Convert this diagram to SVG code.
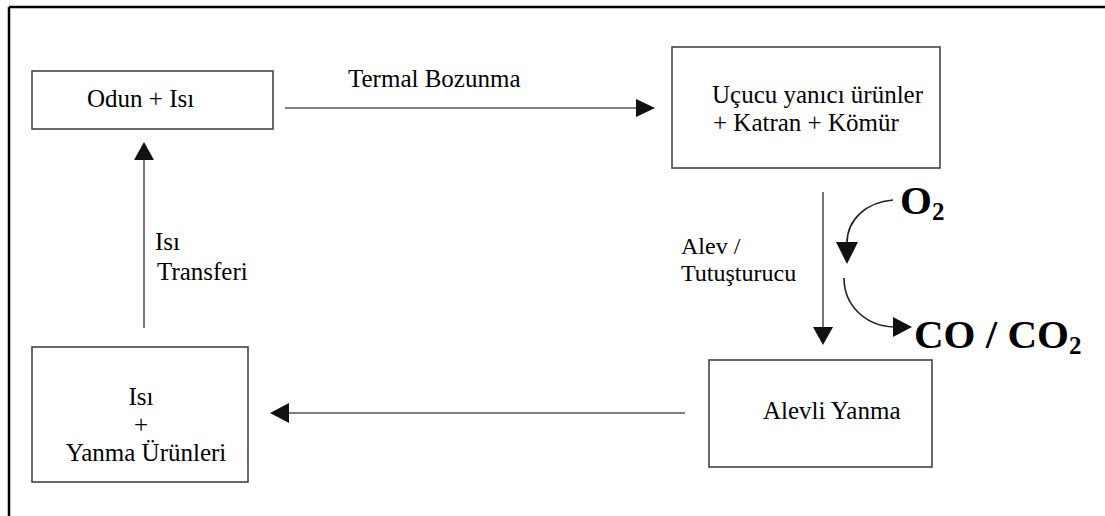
<svg xmlns="http://www.w3.org/2000/svg" width="1105" height="516" viewBox="0 0 1105 516">
<style>
.box{fill:#fff;stroke:#444;stroke-width:1.6}
.ln{fill:none;stroke:#555;stroke-width:1.6}
.cv{fill:none;stroke:#222;stroke-width:1.6}
.hd{fill:#111}
</style>
<rect width="1105" height="516" fill="#fff"/>
<g id="frame" stroke="#000" stroke-width="2.5">
<line x1="9" y1="7" x2="1105" y2="7"/>
<line x1="9" y1="7" x2="9" y2="516"/>
</g>
<g id="n-odun">
<rect class="box" x="32" y="71" width="241" height="58"/>
<text x="87" y="107" font-family="Liberation Serif, Tinos, Times New Roman, serif" font-size="25" style="font-family:'Liberation Serif','Tinos','Times New Roman',serif">Odun + Isı</text>
</g>
<g id="n-ucucu">
<rect class="box" x="672" y="47" width="268" height="121"/>
<text x="712" y="103" font-family="Liberation Serif, Tinos, Times New Roman, serif" font-size="25" style="font-family:'Liberation Serif','Tinos','Times New Roman',serif">Uçucu yanıcı ürünler</text>
<text x="713" y="131" font-family="Liberation Serif, Tinos, Times New Roman, serif" font-size="25" style="font-family:'Liberation Serif','Tinos','Times New Roman',serif">+ Katran + Kömür</text>
</g>
<g id="n-alevli">
<rect class="box" x="709" y="360" width="223" height="107"/>
<text x="763" y="419" font-family="Liberation Serif, Tinos, Times New Roman, serif" font-size="25" style="font-family:'Liberation Serif','Tinos','Times New Roman',serif">Alevli Yanma</text>
</g>
<g id="n-isi">
<rect class="box" x="32" y="347" width="216" height="135"/>
<text x="141" y="405" text-anchor="middle" font-family="Liberation Serif, Tinos, Times New Roman, serif" font-size="25" style="font-family:'Liberation Serif','Tinos','Times New Roman',serif">Isı</text>
<text x="141" y="433" text-anchor="middle" font-family="Liberation Serif, Tinos, Times New Roman, serif" font-size="25" style="font-family:'Liberation Serif','Tinos','Times New Roman',serif">+</text>
<text x="146" y="461" text-anchor="middle" font-family="Liberation Serif, Tinos, Times New Roman, serif" font-size="25" style="font-family:'Liberation Serif','Tinos','Times New Roman',serif">Yanma Ürünleri</text>
</g>
<g id="o2">
<text x="900" y="214" font-family="Liberation Serif, Tinos, Times New Roman, serif" font-size="41" font-weight="bold" style="font-family:'Liberation Serif','Tinos','Times New Roman',serif">O<tspan font-size="25" dy="6">2</tspan></text>
</g>
<g id="co">
<text x="914" y="348" font-family="Liberation Serif, Tinos, Times New Roman, serif" font-size="41" font-weight="bold" style="font-family:'Liberation Serif','Tinos','Times New Roman',serif">CO / CO<tspan font-size="25" dy="6">2</tspan></text>
</g>
<g id="connectors">
<line class="ln" x1="285" y1="108" x2="637" y2="108"/>
<line class="ln" x1="823" y1="192" x2="823" y2="328"/>
<line class="ln" x1="685" y1="413" x2="288" y2="413"/>
<line class="ln" x1="144" y1="328" x2="144" y2="159"/>
<path class="cv" d="M893 200 C866 202 847 220 847 243"/>
<path class="cv" d="M844 278 C844 305 865 326 894 327"/>
<polygon class="hd" points="636,99 655,108 636,117"/>
<polygon class="hd" points="813,327 833,327 823,345"/>
<polygon class="hd" points="289,403 270,413 289,423"/>
<polygon class="hd" points="134,160 144,142 154,160"/>
<polygon class="hd" points="836,242 858,242 847,264"/>
<polygon class="hd" points="893,317 893,337 912,327"/>
<text x="348" y="87" font-family="Liberation Serif, Tinos, Times New Roman, serif" font-size="25" style="font-family:'Liberation Serif','Tinos','Times New Roman',serif">Termal Bozunma</text>
<text x="681" y="254" font-family="Liberation Serif, Tinos, Times New Roman, serif" font-size="24" style="font-family:'Liberation Serif','Tinos','Times New Roman',serif">Alev /</text>
<text x="681" y="281" font-family="Liberation Serif, Tinos, Times New Roman, serif" font-size="24" style="font-family:'Liberation Serif','Tinos','Times New Roman',serif">Tutuşturucu</text>
<text x="155" y="250" font-family="Liberation Serif, Tinos, Times New Roman, serif" font-size="25" style="font-family:'Liberation Serif','Tinos','Times New Roman',serif">Isı</text>
<text x="157" y="280" font-family="Liberation Serif, Tinos, Times New Roman, serif" font-size="25" style="font-family:'Liberation Serif','Tinos','Times New Roman',serif">Transferi</text>
</g>
</svg>
